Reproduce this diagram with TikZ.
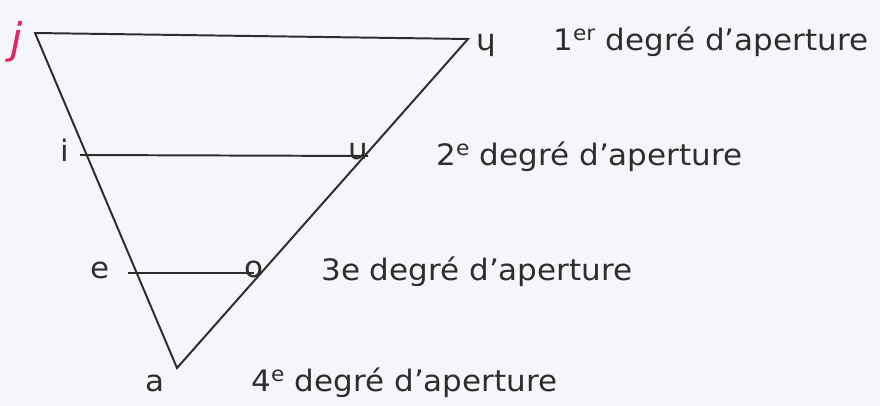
\documentclass[tikz,border=0pt]{standalone}
\usepackage{fontspec}
\setmainfont{DejaVu Sans}[FakeStretch=1.05]
\usepackage{xcolor}
\usetikzlibrary{positioning}

\definecolor{paper}{RGB}{244,246,249}
\definecolor{ink}{RGB}{45,45,45}
\definecolor{pen}{RGB}{222,40,100}

\tikzset{
  vowel/.style={font=\fontsize{21}{23}\selectfont, text=ink, inner sep=0pt},
  degree/.style={font=\fontsize{21}{23}\selectfont, text=ink, anchor=west, inner sep=0pt},
  side/.style={draw=ink, line width=1.4pt},
}

\begin{document}
\begin{tikzpicture}[x=0.025cm, y=-0.025cm]

\fill[paper] (0,0) rectangle (880,406);
\useasboundingbox (0,0) rectangle (880,406);

% corners of the triangle
\coordinate (tl) at (35,33);
\coordinate (tr) at (468,39);
\coordinate (bot) at (177,368);

% ends of the inner lines
\coordinate (i2) at (80,155);
\coordinate (u2) at (368,156);
\coordinate (e3) at (128,273);
\coordinate (o3) at (254,273);

\draw[side] (tl) -- (tr) -- (bot) -- cycle;
\draw[side] (i2) -- (u2);
\draw[side] (e3) -- (o3);

% vowels
\node[vowel, text=pen, font=\fontsize{30}{32}\selectfont\itshape] (j) at (17,42) {j};
\node[vowel] (y) at (486,45) {ɥ};
\node[vowel] (i) at (65,150) {i};
\node[vowel] (u) at (358,151) {u};
\node[vowel] (e) at (100,270) {e};
\node[vowel] (o) at (254,269) {o};
\node[vowel] (a) at (155,383) {a};

% degrees
\node[degree] (d1) at (553,42) {1\textsuperscript{er} degré d’aperture};
\node[degree] (d2) at (436,157) {2\textsuperscript{e} degré d’aperture};
\node[degree] (d3) at (321,272) {3e degré d’aperture};
\node[degree] (d4) at (251,383) {4\textsuperscript{e} degré d’aperture};

\end{tikzpicture}
\end{document}
